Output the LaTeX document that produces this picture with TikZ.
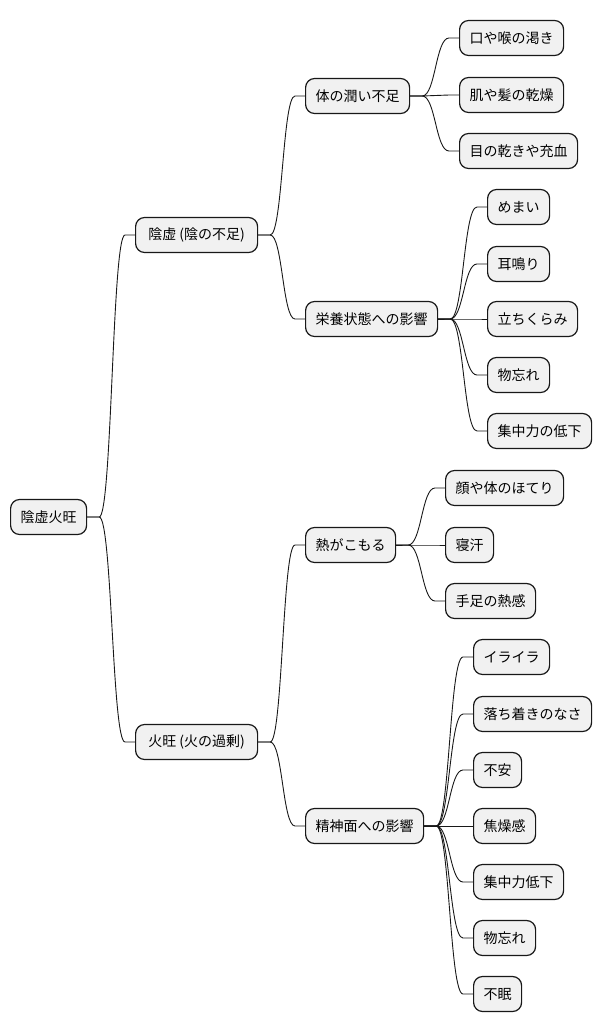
\documentclass[tikz,border=0pt]{standalone}
\usepackage{fontspec}
\setmainfont{Noto Sans CJK JP}
\usetikzlibrary{calc}
\definecolor{boxfill}{HTML}{F1F1F1}
\definecolor{boxline}{HTML}{181818}
\tikzset{
  mm/.style={draw=boxline, fill=boxfill, rounded corners=9pt, line width=1.2pt,
    minimum height=35pt, inner xsep=10pt, inner ysep=0pt,
    font=\fontsize{14pt}{16pt}\selectfont, anchor=west},
  conn/.style={draw=boxline, line width=0.9pt}
}
\newcommand\mmlink[2]{\draw[conn] let \p1=(#1.east), \p2=(#2.west), \n1={(\x1+\x2+2pt)/2} in (\p1) -- (\x1+12pt,\y1) .. controls (\n1,\y1) and (\n1,\y2) .. (\x2-10pt,\y2) -- (\p2);}
\begin{document}
\begin{tikzpicture}[x=1pt,y=-1pt]
\useasboundingbox (0,0) rectangle (602,1034);
\node[mm] (root) at (10,517) {陰虚火旺};
\node[mm, minimum width=122pt] (a1) at (135,235) {陰虚 (陰の不足)};
\node[mm, minimum width=122pt] (a2) at (135,742) {火旺 (火の過剰)};
\node[mm] (b1) at (305,96) {体の潤い不足};
\node[mm] (b2) at (305,319) {栄養状態への影響};
\node[mm] (b3) at (305,545) {熱がこもる};
\node[mm] (b4) at (305,826) {精神面への影響};
\node[mm] (c11) at (459,38) {口や喉の渇き};
\node[mm] (c12) at (459,95) {肌や髪の乾燥};
\node[mm] (c13) at (459,151) {目の乾きや充血};
\node[mm] (c21) at (487,207) {めまい};
\node[mm] (c22) at (487,264) {耳鳴り};
\node[mm] (c23) at (487,319) {立ちくらみ};
\node[mm] (c24) at (487,375) {物忘れ};
\node[mm] (c25) at (487,431) {集中力の低下};
\node[mm] (c31) at (445,488) {顔や体のほてり};
\node[mm] (c32) at (445,545) {寝汗};
\node[mm] (c33) at (445,601) {手足の熱感};
\node[mm] (c41) at (473,657) {イライラ};
\node[mm] (c42) at (473,714) {落ち着きのなさ};
\node[mm] (c43) at (473,770) {不安};
\node[mm] (c44) at (473,826) {焦燥感};
\node[mm] (c45) at (473,882) {集中力低下};
\node[mm] (c46) at (473,938) {物忘れ};
\node[mm] (c47) at (473,994) {不眠};
\mmlink{root}{a1}
\mmlink{root}{a2}
\mmlink{a1}{b1}
\mmlink{a1}{b2}
\mmlink{a2}{b3}
\mmlink{a2}{b4}
\mmlink{b1}{c11}
\mmlink{b1}{c12}
\mmlink{b1}{c13}
\mmlink{b2}{c21}
\mmlink{b2}{c22}
\mmlink{b2}{c23}
\mmlink{b2}{c24}
\mmlink{b2}{c25}
\mmlink{b3}{c31}
\mmlink{b3}{c32}
\mmlink{b3}{c33}
\mmlink{b4}{c41}
\mmlink{b4}{c42}
\mmlink{b4}{c43}
\mmlink{b4}{c44}
\mmlink{b4}{c45}
\mmlink{b4}{c46}
\mmlink{b4}{c47}
\end{tikzpicture}
\end{document}
